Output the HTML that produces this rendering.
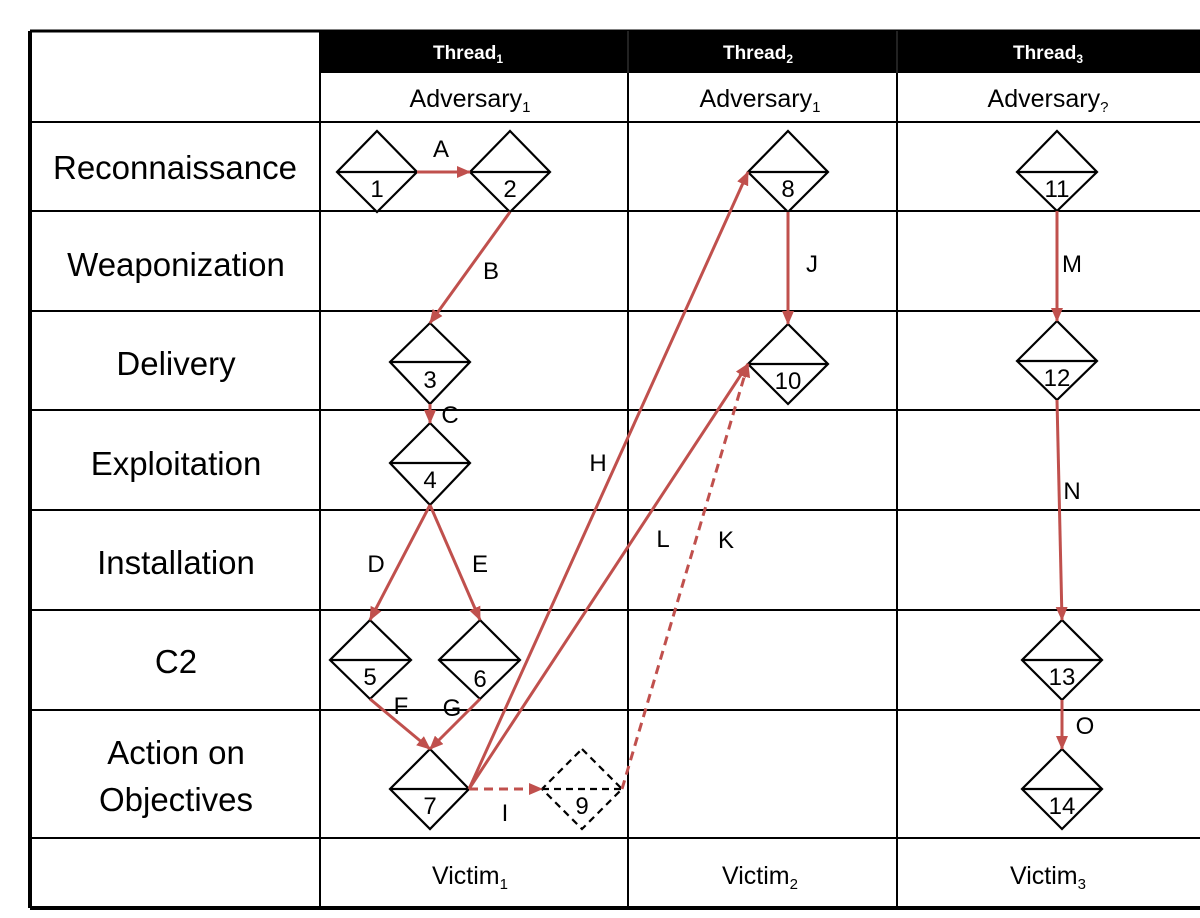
<!DOCTYPE html>
<html><head><meta charset="utf-8"><style>
body{margin:0;background:#fff;}
svg{display:block;}
text{font-family:"Liberation Sans",sans-serif;}
</style></head><body>
<svg width="1200" height="918" viewBox="0 0 1200 918" xmlns="http://www.w3.org/2000/svg">
<defs>
<marker id="ar" markerWidth="14" markerHeight="12" refX="13" refY="6" orient="auto" markerUnits="userSpaceOnUse" viewBox="0 0 14 12">
<path d="M0,0 L14,6 L0,12 z" fill="#c0504d"/></marker>
</defs>
<rect x="320" y="31" width="880" height="42" fill="#000"/>
<g stroke="#000" stroke-width="2" fill="none">
<line x1="30" y1="31" x2="1200" y2="31" stroke-width="3"/>
<line x1="30" y1="31" x2="30" y2="908" stroke-width="4"/>
<line x1="30" y1="908" x2="1200" y2="908" stroke-width="4"/>
<line x1="320" y1="31" x2="320" y2="908"/>
<line x1="628" y1="73" x2="628" y2="908"/>
<line x1="897" y1="73" x2="897" y2="908"/>
<line x1="628" y1="31" x2="628" y2="73" stroke="#444" stroke-width="1"/>
<line x1="897" y1="31" x2="897" y2="73" stroke="#444" stroke-width="1"/>
<line x1="30" y1="122" x2="1200" y2="122"/>
<line x1="30" y1="211" x2="1200" y2="211"/>
<line x1="30" y1="311" x2="1200" y2="311"/>
<line x1="30" y1="410" x2="1200" y2="410"/>
<line x1="30" y1="510" x2="1200" y2="510"/>
<line x1="30" y1="610" x2="1200" y2="610"/>
<line x1="30" y1="710" x2="1200" y2="710"/>
<line x1="30" y1="838" x2="1200" y2="838"/>
</g>
<g fill="#fff" font-weight="bold" font-size="19" text-anchor="middle">
<text x="468" y="59">Thread<tspan font-size="12" dy="4">1</tspan></text>
<text x="758" y="59">Thread<tspan font-size="12" dy="4">2</tspan></text>
<text x="1048" y="59">Thread<tspan font-size="12" dy="4">3</tspan></text>
</g>
<g fill="#000" font-size="25" text-anchor="middle">
<text x="470" y="107">Adversary<tspan font-size="15" dy="5">1</tspan></text>
<text x="760" y="107">Adversary<tspan font-size="15" dy="5">1</tspan></text>
<text x="1048" y="107">Adversary<tspan font-size="15" dy="5">?</tspan></text>
<text x="470" y="884">Victim<tspan font-size="15" dy="5">1</tspan></text>
<text x="760" y="884">Victim<tspan font-size="15" dy="5">2</tspan></text>
<text x="1048" y="884">Victim<tspan font-size="15" dy="5">3</tspan></text>
</g>
<g fill="#000" font-size="33" text-anchor="middle">
<text x="175" y="179">Reconnaissance</text>
<text x="176" y="276">Weaponization</text>
<text x="176" y="375">Delivery</text>
<text x="176" y="475">Exploitation</text>
<text x="176" y="574">Installation</text>
<text x="176" y="673">C2</text>
<text x="176" y="764">Action on</text>
<text x="176" y="811">Objectives</text>
</g>
<g stroke="#000" stroke-width="2.2" fill="#fff">
<path d="M377,131 L417,172 L377,212 L337,172 Z M337,172 H417"/>
<path d="M510,131 L550,172 L510,212 L470,172 Z M470,172 H550"/>
<path d="M788,131 L828,172 L788,212 L748,172 Z M748,172 H828"/>
<path d="M1057,131 L1097,172 L1057,211 L1017,172 Z M1017,172 H1097"/>
<path d="M430,323 L470,362 L430,404 L390,362 Z M390,362 H470"/>
<path d="M788,324 L828,364 L788,404 L748,364 Z M748,364 H828"/>
<path d="M1057,321 L1097,361 L1057,400 L1017,361 Z M1017,361 H1097"/>
<path d="M430,423 L470,463 L430,505 L390,463 Z M390,463 H470"/>
<path d="M370,620 L411,660 L370,699 L330,660 Z M330,660 H411"/>
<path d="M480,620 L520,660 L480,699 L439,660 Z M439,660 H520"/>
<path d="M1062,620 L1102,660 L1062,700 L1022,660 Z M1022,660 H1102"/>
<path d="M430,749 L469,789 L430,829 L390,789 Z M390,789 H469"/>
<path d="M1062,749 L1102,789 L1062,829 L1022,789 Z M1022,789 H1102"/>
<path d="M582,749 L622,789 L582,829 L542,789 Z M542,789 H622" stroke-dasharray="7,5"/>
</g>
<g fill="#000" font-size="24" text-anchor="middle">
<text x="377" y="197">1</text><text x="510" y="197">2</text><text x="788" y="197">8</text><text x="1057" y="197">11</text>
<text x="430" y="388">3</text><text x="788" y="389">10</text><text x="1057" y="386">12</text>
<text x="430" y="488">4</text><text x="370" y="685">5</text><text x="480" y="687">6</text><text x="1062" y="685">13</text>
<text x="430" y="814">7</text><text x="582" y="814">9</text><text x="1062" y="814">14</text>
</g>
<g stroke="#c0504d" stroke-width="3" fill="none" marker-end="url(#ar)">
<line x1="417" y1="172" x2="470" y2="172"/>
<line x1="510" y1="212" x2="430" y2="323"/>
<line x1="430" y1="404" x2="430" y2="423"/>
<line x1="430" y1="505" x2="370" y2="620"/>
<line x1="430" y1="505" x2="480" y2="620"/>
<line x1="370" y1="699" x2="430" y2="749"/>
<line x1="480" y1="699" x2="430" y2="749"/>
<line x1="469" y1="789" x2="748" y2="172"/>
<line x1="469" y1="789" x2="748" y2="364"/>
<line x1="469" y1="789" x2="542" y2="789" stroke-dasharray="9,6"/>
<line x1="622" y1="789" x2="748" y2="364" stroke-dasharray="9,6"/>
<line x1="788" y1="212" x2="788" y2="324"/>
<line x1="1057" y1="211" x2="1057" y2="321"/>
<line x1="1057" y1="400" x2="1062" y2="620"/>
<line x1="1062" y1="700" x2="1062" y2="749"/>
</g>
<g fill="#000" font-size="24" text-anchor="middle">
<text x="441" y="157">A</text><text x="491" y="279">B</text><text x="450" y="423">C</text>
<text x="376" y="572">D</text><text x="480" y="572">E</text><text x="401" y="714">F</text><text x="452" y="716">G</text>
<text x="598" y="471">H</text><text x="663" y="547">L</text><text x="726" y="548">K</text><text x="505" y="821">I</text>
<text x="812" y="272">J</text><text x="1072" y="272">M</text><text x="1072" y="499">N</text><text x="1085" y="734">O</text>
</g>
</svg>
</body></html>
